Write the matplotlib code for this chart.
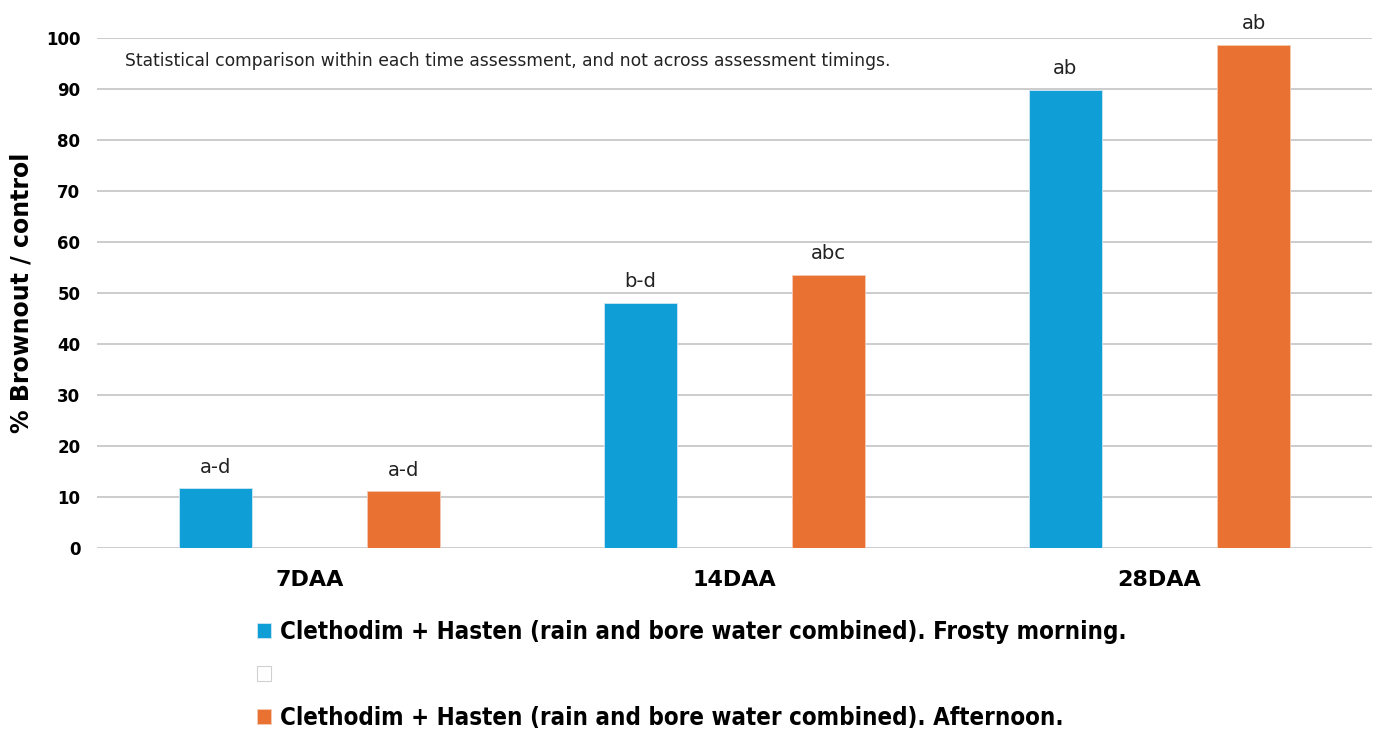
import matplotlib.pyplot as plt
import numpy as np

# Data
categories = ["7DAA", "14DAA", "28DAA"]
frosty = [11.8, 48.1, 89.9]
afternoon = [11.2, 53.6, 98.7]
frosty_letters = ["a-d", "b-d", "ab"]
afternoon_letters = ["a-d", "abc", "ab"]
series_names = [
    "Clethodim + Hasten (rain and bore water combined). Frosty morning.",
    " ",
    "Clethodim + Hasten (rain and bore water combined). Afternoon.",
]

blue = "#0F9ED5"
orange = "#E97132"

fig = plt.figure(figsize=(13.78, 7.31), dpi=100)
ax = fig.add_axes([97 / 1378, (731 - 548) / 731, 1275 / 1378, 510 / 731])

x = np.arange(len(categories))
w = 0.172
off = 0.222
b1 = ax.bar(x - off, frosty, w, color=blue, edgecolor="#cfe8f5", linewidth=0.6, zorder=3)
b2 = ax.bar(x, [0, 0, 0], w, color="white", edgecolor="#d0d0d0", linewidth=0.8, zorder=3)
b3 = ax.bar(x + off, afternoon, w, color=orange, edgecolor="#f3cbb5", linewidth=0.6, zorder=3)

for bars, labels in [(b1, frosty_letters), (b3, afternoon_letters)]:
    for rect, lab in zip(bars, labels):
        ax.text(rect.get_x() + rect.get_width() / 2, rect.get_height() + 2.2, lab,
                ha="center", va="bottom", fontsize=14, color="#222222")

ax.set_xlim(-0.5, 2.5)
ax.set_ylim(0, 100)
ax.set_yticks(range(0, 101, 10))
ax.yaxis.grid(True, color="#c8c8c8", linewidth=1.3, zorder=0)
ax.set_axisbelow(True)
for s in ax.spines.values():
    s.set_visible(False)
ax.tick_params(axis="both", length=0)
ax.tick_params(axis="y", pad=12, labelsize=12)
ax.tick_params(axis="x", pad=16, labelsize=16)
ax.set_xticks(x)
ax.set_xticklabels(categories, fontweight="bold")
for t in ax.get_yticklabels():
    t.set_fontweight("bold")
ax.set_ylabel("% Brownout / control", fontsize=17, fontweight="bold")
ax.yaxis.set_label_coords(-0.050, 0.5)

ax.text(0.022, 0.955, "Statistical comparison within each time assessment, and not across assessment timings.",
        transform=ax.transAxes, fontsize=12.3, color="#222222", va="center")

leg = fig.legend([b1, b2, b3], series_names, loc="upper center", bbox_to_anchor=(0.502, 0.175),
                 ncol=1, frameon=False, handlelength=0.58, handleheight=0.58, handletextpad=0.4,
                 labelspacing=0.8, borderpad=0.2,
                 prop={"family": "DejaVu Sans", "stretch": "condensed", "weight": "bold", "size": 17.3})

fig.savefig("out.png", dpi=100)
